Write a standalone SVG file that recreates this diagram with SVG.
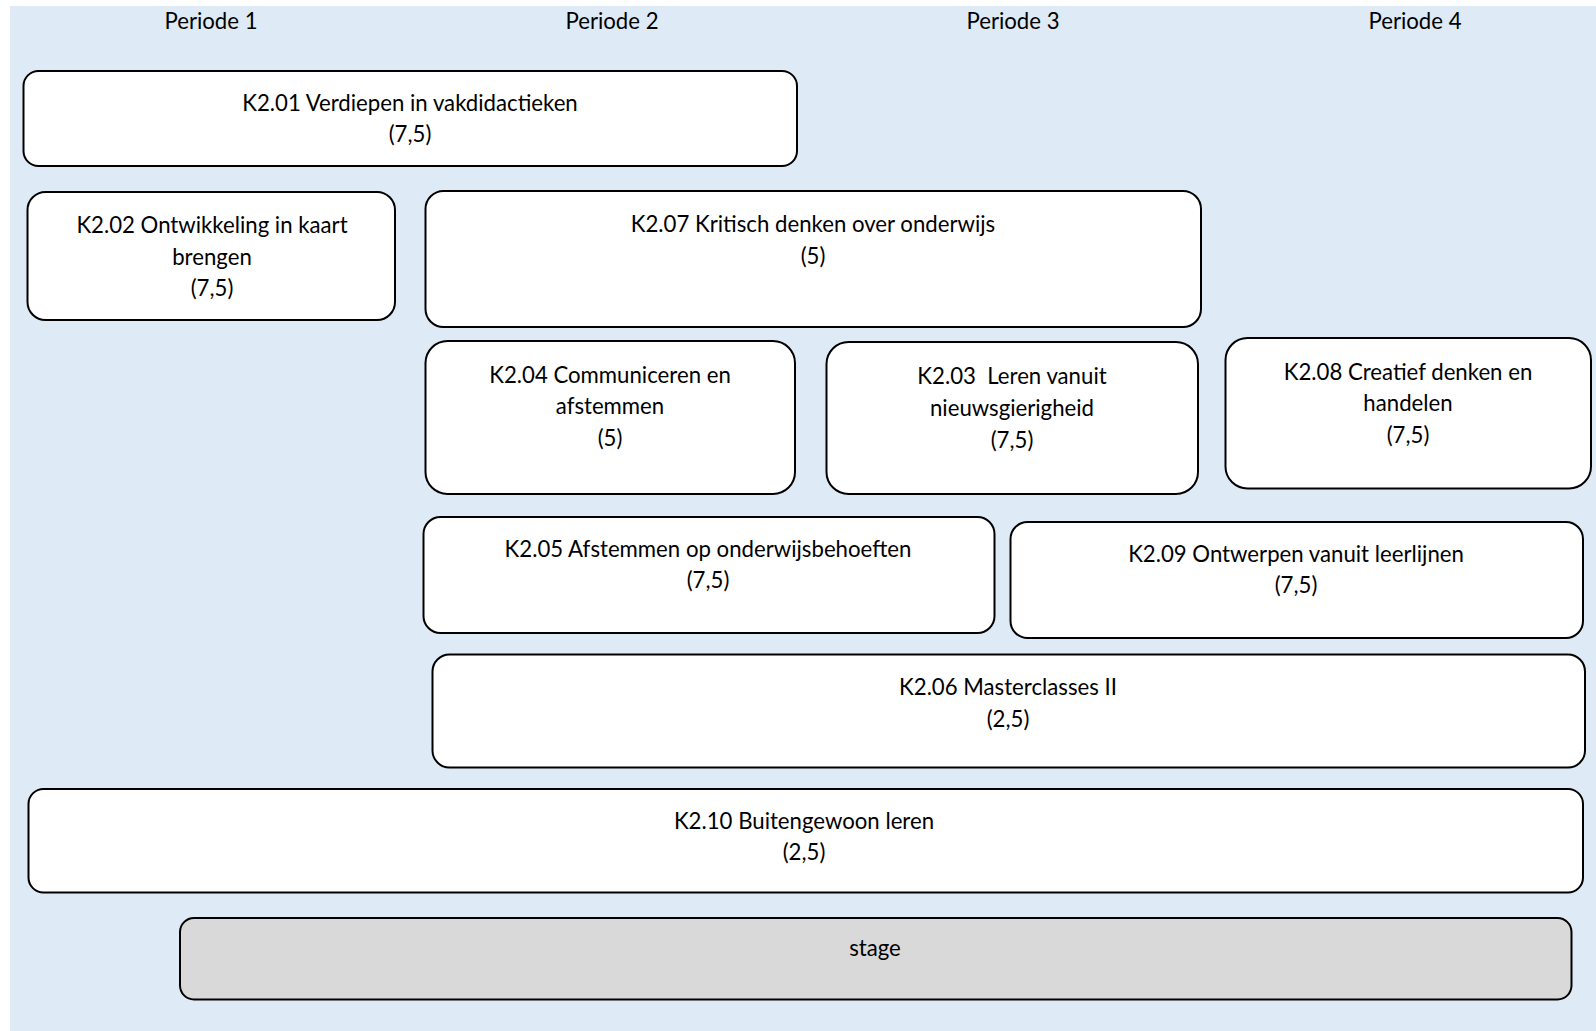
<svg xmlns="http://www.w3.org/2000/svg" width="1596" height="1031" viewBox="0 0 1596 1031">
<style>
.bg{fill:#DEEAF6}
.box{fill:#FFFFFF;stroke:#000000;stroke-width:2}
.grey{fill:#D9D9D9;stroke:#000000;stroke-width:2}
text{font-family:Lato,"Liberation Sans",sans-serif;font-size:22.2px;fill:#000000;text-anchor:middle}
</style>
<rect class="bg" x="10" y="6" width="1586" height="1025"/>
<g id="headers">
<text x="211" y="29">Periode 1</text>
<text x="612" y="29">Periode 2</text>
<text x="1013" y="29">Periode 3</text>
<text x="1415" y="29">Periode 4</text>
</g>
<g id="K2.01">
<rect class="box" x="23.5" y="71" width="773.5" height="95" rx="15"/>
<text x="410" y="111">K2.01 Verdiepen in vakdidactieken</text>
<text x="410" y="142">(7,5)</text>
</g>
<g id="K2.02">
<rect class="box" x="27.5" y="192" width="367.5" height="128" rx="18"/>
<text x="212" y="233">K2.02 Ontwikkeling in kaart</text>
<text x="212" y="264.5">brengen</text>
<text x="212" y="296">(7,5)</text>
</g>
<g id="K2.07">
<rect class="box" x="425.5" y="191" width="775.5" height="136" rx="18"/>
<text x="813" y="232">K2.07 Kritisch denken over onderwijs</text>
<text x="813" y="263.5">(5)</text>
</g>
<g id="K2.04">
<rect class="box" x="425.5" y="341" width="369.5" height="153" rx="22"/>
<text x="610" y="382.5">K2.04 Communiceren en</text>
<text x="610" y="414">afstemmen</text>
<text x="610" y="445.5">(5)</text>
</g>
<g id="K2.03">
<rect class="box" x="826.5" y="342" width="371.5" height="152" rx="22"/>
<text x="1012" y="383.5" xml:space="preserve">K2.03  Leren vanuit</text>
<text x="1012" y="416">nieuwsgierigheid</text>
<text x="1012" y="448">(7,5)</text>
</g>
<g id="K2.08">
<rect class="box" x="1225.5" y="338" width="365.5" height="150.5" rx="22"/>
<text x="1408" y="379.5">K2.08 Creatief denken en</text>
<text x="1408" y="411">handelen</text>
<text x="1408" y="442.5">(7,5)</text>
</g>
<g id="K2.05">
<rect class="box" x="423.5" y="517" width="571" height="116" rx="17"/>
<text x="708" y="556.5">K2.05 Afstemmen op onderwijsbehoeften</text>
<text x="708" y="588">(7,5)</text>
</g>
<g id="K2.09">
<rect class="box" x="1010.5" y="522" width="572.5" height="116" rx="17"/>
<text x="1296" y="561.5">K2.09 Ontwerpen vanuit leerlijnen</text>
<text x="1296" y="593">(7,5)</text>
</g>
<g id="K2.06">
<rect class="box" x="432.5" y="654.5" width="1152.5" height="113" rx="17"/>
<text x="1008" y="695">K2.06 Masterclasses II</text>
<text x="1008" y="726.5">(2,5)</text>
</g>
<g id="K2.10">
<rect class="box" x="28.5" y="789" width="1554.5" height="103.5" rx="15"/>
<text x="804" y="828.5">K2.10 Buitengewoon leren</text>
<text x="804" y="860">(2,5)</text>
</g>
<g id="stage">
<rect class="grey" x="180" y="918" width="1391.5" height="81.5" rx="14"/>
<text x="875" y="955.5">stage</text>
</g>
<g id="connectors"/>
</svg>
